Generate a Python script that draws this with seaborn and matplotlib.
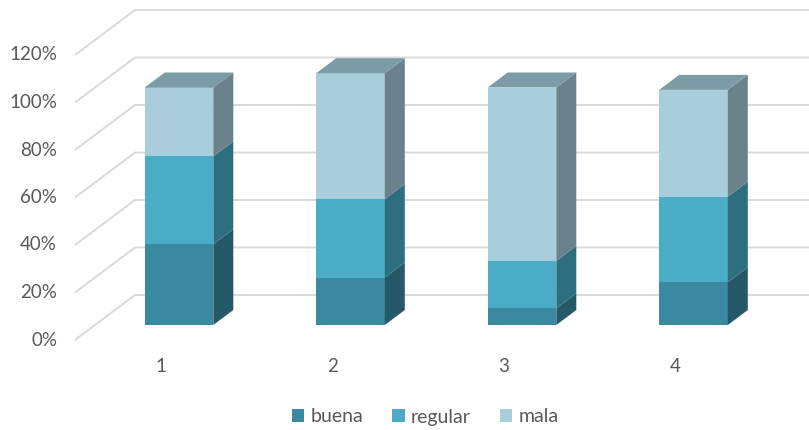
"""
3D-style stacked percentage bars (buena / regular / mala), Excel look.
"""
import matplotlib
matplotlib.use("Agg")
import matplotlib.pyplot as plt
import matplotlib.transforms as mtransforms
from matplotlib.patches import Patch, Polygon
import numpy as np
import seaborn as sns

categories = ["1", "2", "3", "4"]
series = ["buena", "regular", "mala"]
buena = [0.34, 0.20, 0.07, 0.18]
regular = [0.37, 0.33, 0.20, 0.36]
mala = [0.29, 0.53, 0.73, 0.45]
y_ticks = [0.0, 0.2, 0.4, 0.6, 0.8, 1.0, 1.2]

front_colors = {"buena": "#3B89A0", "regular": "#4AACC6", "mala": "#A8CDDB"}
side_colors = {"buena": "#265968", "regular": "#2D6E7F", "mala": "#6B828C"}
top_color = "#7B9BA5"
grid_color = "#D9D9D9"
text_color = "#595959"

# pixel layout of the "front plane"
PX_X0, PX_PER_X = 159.0, 171.5       # category 0 centre, px per category
PX_Y0, PX_PER_Y = 340.0, 237.5       # 0% from top, px per 100%
W, H = 809, 430
WALL_DX, WALL_DY = 60, 45            # depth of the whole box in px
BAR_DX, BAR_DY = 20, 15              # bar front offset / bar depth in px

sns.set_theme(style="white")
plt.rcParams["font.family"] = ["Lato", "DejaVu Sans"]

fig = plt.figure(figsize=(W / 100, H / 100), dpi=100)
ax = fig.add_axes([0, 0, 1, 1])

# stacked fronts drawn as overlaid cumulative bars
values = {"buena": np.array(buena), "regular": np.array(regular), "mala": np.array(mala)}
cum = {}
running = np.zeros(len(categories))
for name in series:
    running = running + values[name]
    cum[name] = running.copy()

patches = {}
for name in reversed(series):
    n0 = len(ax.patches)
    sns.barplot(x=categories, y=cum[name], color=front_colors[name], saturation=1,
                width=0.4, errorbar=None, linewidth=0, ax=ax, zorder=3)
    patches[name] = ax.patches[n0:]

ax.set_xlim(-PX_X0 / PX_PER_X, (W - PX_X0) / PX_PER_X)
ax.set_ylim(-(H - PX_Y0) / PX_PER_Y, PX_Y0 / PX_PER_Y)
ax.axis("off")

ux = 1 / PX_PER_X
uy = 1 / PX_PER_Y
bar_trans = mtransforms.offset_copy(ax.transData, fig=fig, x=BAR_DX, y=BAR_DY, units="dots")

# gridlines on floor/back wall
x_left = (75 - PX_X0) / PX_PER_X
for v in y_ticks:
    ax.plot([x_left, x_left + WALL_DX * ux, 5],
            [v, v + WALL_DY * uy, v + WALL_DY * uy],
            color=grid_color, lw=1.4, zorder=0, solid_capstyle="butt")
    ax.text((57 - PX_X0) / PX_PER_X, v, f"{int(round(v * 100))}%",
            ha="right", va="center", fontsize=13.5, color=text_color)

# bar fronts, sides, tops
dxd, dyd = BAR_DX * ux, BAR_DY * uy
for k, name in enumerate(series):
    lower = patches[series[k - 1]] if k > 0 else None
    for i, p in enumerate(patches[name]):
        p.set_transform(bar_trans)
        xr = p.get_x() + p.get_width()
        y1 = p.get_y() + p.get_height()
        y0 = lower[i].get_y() + lower[i].get_height() if lower is not None else 0.0
        p.set_y(y0)
        p.set_height(y1 - y0)
        side = Polygon([(xr, y0), (xr + dxd, y0 + dyd), (xr + dxd, y1 + dyd), (xr, y1)],
                       closed=True, facecolor=side_colors[name], edgecolor="none",
                       transform=bar_trans, zorder=3)
        ax.add_patch(side)
        if name == series[-1]:
            xl = p.get_x()
            top = Polygon([(xl, y1), (xr, y1), (xr + dxd, y1 + dyd), (xl + dxd, y1 + dyd)],
                          closed=True, facecolor=top_color, edgecolor="none",
                          transform=bar_trans, zorder=3)
            ax.add_patch(top)

for i, c in enumerate(categories):
    ax.text(i + 2 * ux, -27 * uy, c, ha="center", va="center", fontsize=13.5, color=text_color)

handles = [Patch(facecolor=front_colors[s], edgecolor="none", label=s) for s in series]
fig.legend(handles=handles, loc="center", bbox_to_anchor=(425 / W, 13 / H), ncol=3,
           frameon=False, fontsize=14, handlelength=0.65, handleheight=0.65,
           handletextpad=0.3, columnspacing=1.5, labelcolor=text_color)

fig.savefig("out.png", dpi=100)
